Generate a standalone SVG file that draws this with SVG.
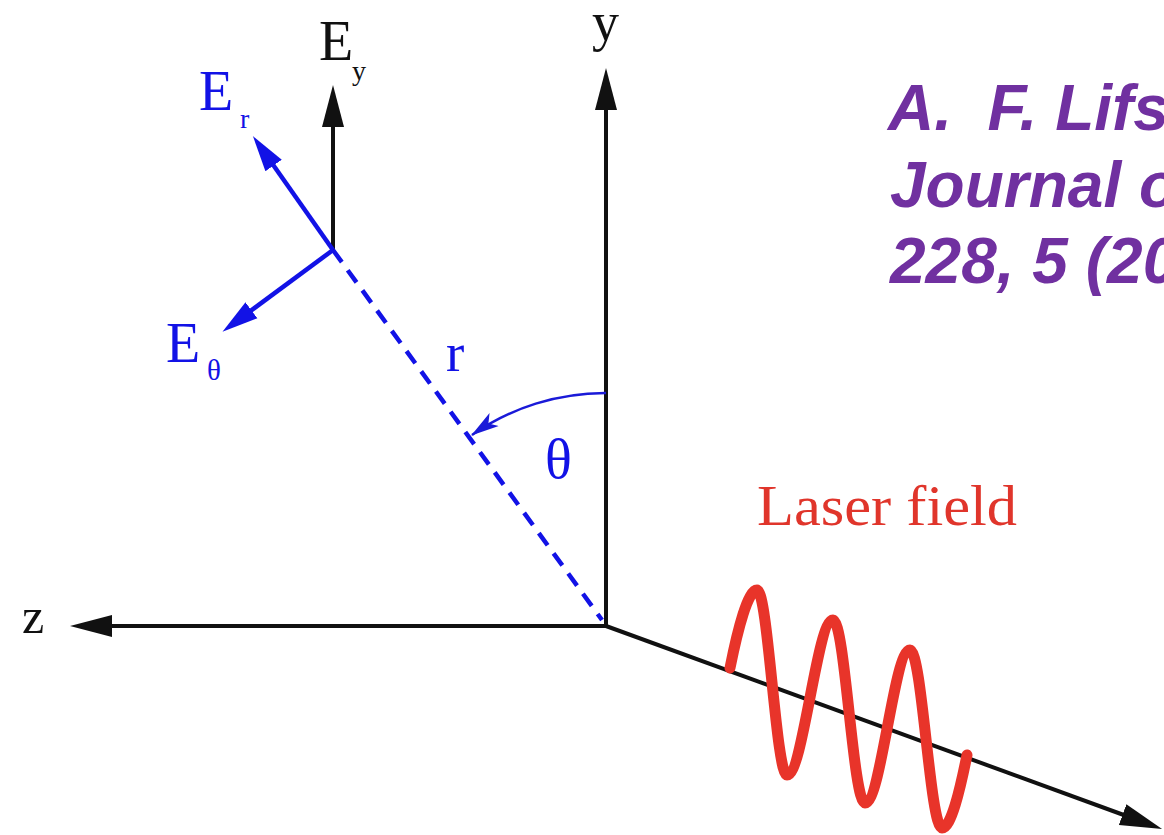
<svg xmlns="http://www.w3.org/2000/svg" width="1164" height="835" viewBox="0 0 1164 835">
<style>
.ax{stroke:#111;stroke-width:4;fill:none}
.bl{stroke:#1212E6;stroke-width:4.5;fill:none}
.serif{font-family:"Liberation Serif","DejaVu Serif",serif}
.blk{fill:#111}
.blu{fill:#1212E6}
.cite{font-family:"Liberation Sans",Arial,sans-serif;font-weight:bold;font-style:italic;font-size:64px;fill:#7030A0;white-space:pre}
</style>
<defs>
<marker id="ahk" markerUnits="userSpaceOnUse" markerWidth="44" markerHeight="24" viewBox="0 0 44 24" refX="10" refY="12" orient="auto">
<path d="M0,1 L42,12 L0,23 z" fill="#111"/>
</marker>
<marker id="ahb" markerUnits="userSpaceOnUse" markerWidth="38" markerHeight="22" viewBox="0 0 38 22" refX="8" refY="11" orient="auto">
<path d="M0,1 L36,11 L0,21 z" fill="#1212E6"/>
</marker>
<marker id="ahs" markerUnits="userSpaceOnUse" markerWidth="30" markerHeight="18" viewBox="0 0 30 18" refX="27" refY="9" orient="auto">
<path d="M0,1 L28,9 L0,17 L7,9 z" fill="#1A1AD8"/>
</marker>
</defs>
<g id="connectors">
<line class="ax" x1="606" y1="626" x2="606" y2="100" marker-end="url(#ahk)"/>
<line class="ax" x1="606" y1="626" x2="102" y2="626" marker-end="url(#ahk)"/>
<line class="ax" x1="606" y1="626" x2="1132" y2="818" marker-end="url(#ahk)"/>
<line class="ax" x1="333" y1="252" x2="333" y2="117" marker-end="url(#ahk)"/>
<line class="bl" x1="333" y1="250" x2="269" y2="159" marker-end="url(#ahb)"/>
<line class="bl" x1="333" y1="250" x2="245" y2="315" marker-end="url(#ahb)"/>
<line class="bl" x1="333" y1="250" x2="602" y2="620" stroke-dasharray="15 10"/>
<path d="M606,393 A233,233 0 0 0 472,435" stroke="#1A1AD8" stroke-width="2.5" fill="none" marker-end="url(#ahs)"/>
</g>
<g id="laser-wave">
<path d="M730,668 C738,628 748,590 757,590 C768,590 776,775 787,775 C803,775 817,620 833,620 C845,620 853,803 865,803 C881,803 894,650 910,650 C922,650 930,828 942,828 C951,828 960,790 967,755" stroke="#E8342A" stroke-width="11" fill="none" stroke-linecap="round" stroke-linejoin="round"/>
</g>
<g id="label-y"><text class="serif blk" x="592" y="40" font-size="54">y</text></g>
<g id="label-z"><text class="serif blk" x="22" y="633" font-size="50">z</text></g>
<g id="label-Ey"><text class="serif blk" x="319" y="60" font-size="56">E</text><text class="serif blk" x="352" y="80" font-size="28">y</text></g>
<g id="label-Er"><text class="serif blu" x="199" y="110" font-size="56">E</text><text class="serif blu" x="240" y="128" font-size="28">r</text></g>
<g id="label-Etheta"><text class="serif blu" x="166" y="362" font-size="56">E</text><text class="serif blu" x="207" y="380" font-size="29">θ</text></g>
<g id="label-r"><text class="serif blu" x="446" y="371" font-size="55">r</text></g>
<g id="label-theta"><text class="serif blu" x="545" y="478" font-size="56">θ</text></g>
<g id="label-laser"><text class="serif" x="757" y="525" font-size="58" fill="#E0352B" textLength="260" lengthAdjust="spacingAndGlyphs">Laser field</text></g>
<g id="citation">
<text class="cite" x="888" y="130">A.  F. Lifs</text>
<text class="cite" x="890" y="207">Journal o</text>
<text class="cite" x="890" y="283">228, 5 (20</text>
</g>
</svg>
